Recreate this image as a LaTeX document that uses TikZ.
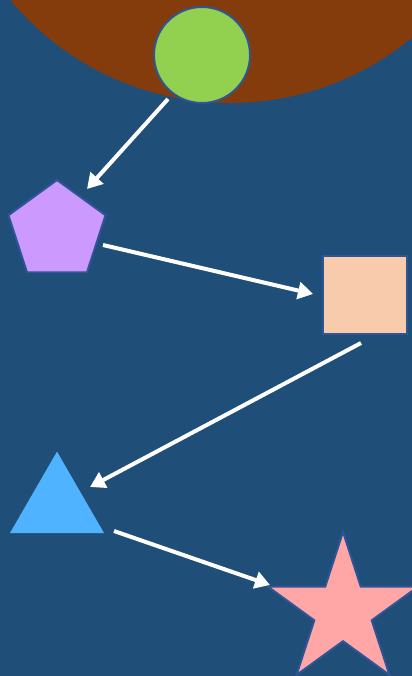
\documentclass[tikz,border=0pt]{standalone}
\usepackage{tikz}
\usetikzlibrary{shapes,arrows.meta}
\definecolor{slideblue}{RGB}{31,78,121}
\definecolor{rustbrown}{RGB}{132,60,12}
\definecolor{limegreen}{RGB}{146,208,80}
\definecolor{lilac}{RGB}{204,153,255}
\definecolor{peach}{RGB}{248,203,173}
\definecolor{skyblue}{RGB}{79,179,255}
\definecolor{rosepink}{RGB}{255,167,167}
\definecolor{edgeblue}{RGB}{47,85,151}
\tikzstyle{every picture}=[x=0.02cm, y=-0.02cm]

\begin{document}
\begin{tikzpicture}[
	shapenode/.style={draw=edgeblue,line width=1.1pt,inner sep=0pt,outer sep=0pt},
	flow/.style={white,line width=0.08cm,-{Triangle[length=0.3cm,width=0.34cm]}}
	]
	\useasboundingbox (0,0) rectangle (412,676);
	\clip (0,0) rectangle (412,676);
	\fill [slideblue] (0,0) rectangle (412,676);
	\fill [rustbrown] (230,-183) circle (5.72cm);
	% shapes
	\node [shapenode, circle, fill=limegreen, minimum size=1.92cm] (circ) at (202,55) {};
	\node [shapenode, regular polygon, regular polygon sides=5, fill=lilac,
		minimum size=2.04cm] (penta) at (57,231) {};
	\node [shapenode, rectangle, fill=peach, minimum width=1.68cm,
		minimum height=1.56cm] (rect) at (365,295) {};
	\node [shapenode, regular polygon, regular polygon sides=3, draw=skyblue,
		fill=skyblue, minimum size=2.1cm] (tri) at (57,506) {};
	\node [shapenode, star, star points=5, star point ratio=2.62, fill=rosepink,
		minimum size=3.16cm] (star) at (343,611) {};
	% arrow ends
	\coordinate (circOut) at (168,99);
	\coordinate (pentaIn) at (87,189);
	\coordinate (pentaOut) at (103,245);
	\coordinate (rectIn) at (313,294);
	\coordinate (rectOut) at (361,343);
	\coordinate (triIn) at (90,487);
	\coordinate (triOut) at (114,531);
	\coordinate (starIn) at (270,585);
	\draw [flow] (circOut) -- (pentaIn);
	\draw [flow] (pentaOut) -- (rectIn);
	\draw [flow] (rectOut) -- (triIn);
	\draw [flow] (triOut) -- (starIn);
\end{tikzpicture}
\end{document}
